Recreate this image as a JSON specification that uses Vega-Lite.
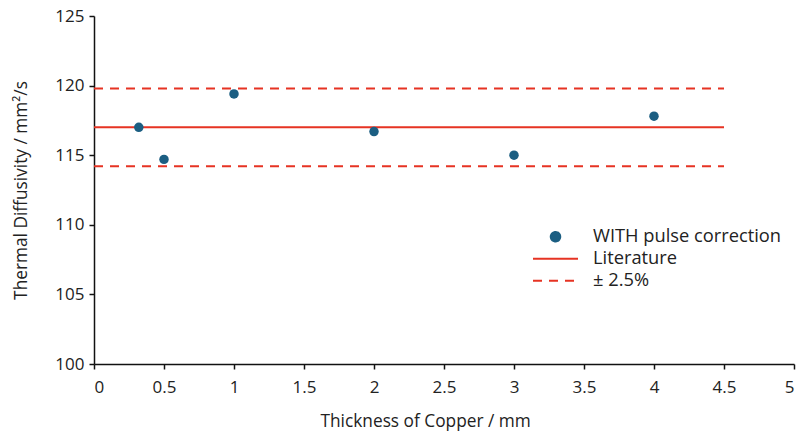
{
  "$schema": "https://vega.github.io/schema/vega-lite/v6.json",
  "width": 700,
  "height": 348,
  "autosize": "none",
  "padding": {"left": 94, "top": 16, "right": 17, "bottom": 71},
  "background": "white",
  "config": {
    "view": {"stroke": null},
    "font": "Open Sans",
    "axis": {
      "grid": false,
      "domainColor": "#111",
      "domainWidth": 1.5,
      "tickColor": "#111",
      "tickWidth": 1.5,
      "tickSize": 5,
      "labelFont": "Open Sans",
      "labelFontSize": 17,
      "labelColor": "#222",
      "titleFont": "Open Sans",
      "titleFontSize": 17.3,
      "titleFontWeight": "normal",
      "titleColor": "#222"
    }
  },
  "datasets": {
    "points": [
      {"thickness": 0.32, "diffusivity": 117.0, "series": "WITH pulse correction"},
      {"thickness": 0.5, "diffusivity": 114.7, "series": "WITH pulse correction"},
      {"thickness": 1.0, "diffusivity": 119.4, "series": "WITH pulse correction"},
      {"thickness": 2.0, "diffusivity": 116.7, "series": "WITH pulse correction"},
      {"thickness": 3.0, "diffusivity": 115.0, "series": "WITH pulse correction"},
      {"thickness": 4.0, "diffusivity": 117.8, "series": "WITH pulse correction"}
    ],
    "lines": [
      {"x0": 0, "x1": 4.5, "value": 117.0, "series": "Literature"},
      {"x0": 0, "x1": 4.5, "value": 119.8, "series": "± 2.5%"},
      {"x0": 0, "x1": 4.5, "value": 114.2, "series": "± 2.5%"}
    ]
  },
  "layer": [
    {
      "data": {"name": "lines"},
      "mark": {"type": "rule", "strokeWidth": 2},
      "encoding": {
        "x": {
          "field": "x0", "type": "quantitative",
          "scale": {"domain": [0, 5], "nice": false, "zero": false},
          "axis": {"values": [0, 0.5, 1, 1.5, 2, 2.5, 3, 3.5, 4, 4.5, 5], "format": "~g", "labelPadding": 10, "title": "Thickness of Copper / mm", "titlePadding": 17, "titleAlign": "left", "titleAnchor": "start", "titleX": 226}
        },
        "x2": {"field": "x1"},
        "y": {
          "field": "value", "type": "quantitative",
          "scale": {"domain": [100, 125], "nice": false, "zero": false},
          "axis": {"values": [100, 105, 110, 115, 120, 125], "labelPadding": 5, "title": "Thermal Diffusivity / mm²/s", "titlePadding": 24}
        },
        "color": {
          "field": "series", "type": "nominal",
          "scale": {"domain": ["WITH pulse correction", "Literature", "± 2.5%"], "range": ["#1b5e82", "#e63323", "#e63323"]},
          "legend": {
            "title": null,
            "orient": "none",
            "legendX": 438,
            "legendY": 210,
            "padding": 0,
            "symbolSize": 2025,
            "symbolStrokeWidth": 2,
            "symbolOffset": 0,
            "labelOffset": 14,
            "clipHeight": 21.5,
            "labelFont": "Open Sans",
            "labelFontSize": 18.3,
            "labelColor": "#222",
            "rowPadding": 0,
            "labelLimit": 400,
            "encode": {
              "symbols": {
                "update": {
                  "shape": {"signal": "datum.value === 'WITH pulse correction' ? 'circle' : 'stroke'"},
                  "size": {"signal": "datum.value === 'WITH pulse correction' ? 90 : 2025"},
                  "strokeDash": {"signal": "datum.value === '± 2.5%' ? [9, 7] : [1, 0]"},
                  "fill": {"signal": "datum.value === 'WITH pulse correction' ? '#1b5e82' : 'transparent'"},
                  "stroke": {"signal": "datum.value === 'WITH pulse correction' ? 'transparent' : '#e63323'"},
                  "strokeWidth": {"value": 2},
                  "opacity": {"value": 1}
                }
              }
            }
          }
        },
        "strokeDash": {
          "field": "series", "type": "nominal",
          "scale": {"domain": ["Literature", "± 2.5%"], "range": [[1, 0], [9, 7]]},
          "legend": null
        }
      }
    },
    {
      "data": {"name": "points"},
      "mark": {"type": "circle", "size": 90, "opacity": 1},
      "encoding": {
        "x": {"field": "thickness", "type": "quantitative"},
        "y": {"field": "diffusivity", "type": "quantitative"},
        "color": {"field": "series", "type": "nominal"}
      }
    }
  ]
}
